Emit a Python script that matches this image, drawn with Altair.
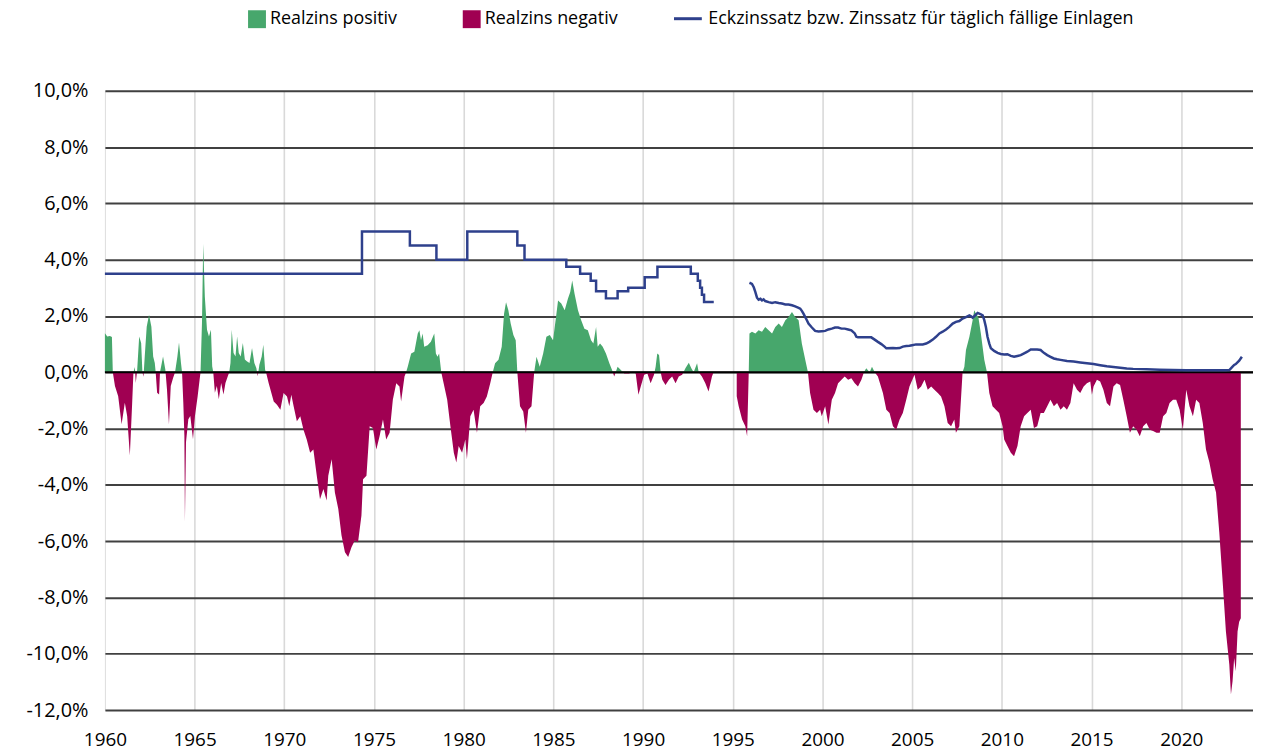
import altair as alt
import pandas as pd

real_t = [1960.00, 1960.13, 1960.28, 1960.39, 1960.44, 1960.56, 1960.74, 1960.93, 1961.11, 1961.24,
          1961.39, 1961.52, 1961.59, 1961.67, 1961.72, 1961.80, 1961.91, 1962.02, 1962.09, 1962.15,
          1962.22, 1962.33, 1962.46, 1962.59, 1962.69, 1962.78, 1962.83, 1962.91, 1963.02, 1963.07,
          1963.24, 1963.37, 1963.46, 1963.57, 1963.67, 1963.80, 1963.91, 1964.04, 1964.13, 1964.24,
          1964.30, 1964.37, 1964.43, 1964.46, 1964.52, 1964.65, 1964.76, 1964.91, 1965.02, 1965.17,
          1965.28, 1965.33, 1965.41, 1965.48, 1965.57, 1965.69, 1965.80, 1965.91, 1965.98, 1966.04,
          1966.13, 1966.24, 1966.35, 1966.48, 1966.61, 1966.72, 1966.85, 1966.93, 1967.00, 1967.07,
          1967.17, 1967.28, 1967.37, 1967.46, 1967.57, 1967.69, 1967.80, 1967.91, 1968.06, 1968.20,
          1968.33, 1968.44, 1968.52, 1968.61, 1968.74, 1968.83, 1968.93, 1968.98, 1969.13, 1969.41,
          1969.59, 1969.78, 1969.96, 1970.15, 1970.28, 1970.39, 1970.52, 1970.70, 1970.89, 1971.07,
          1971.25, 1971.44, 1971.62, 1971.81, 1971.99, 1972.18, 1972.36, 1972.45, 1972.64, 1972.82,
          1973.01, 1973.19, 1973.38, 1973.56, 1973.75, 1973.93, 1974.11, 1974.30, 1974.39, 1974.58,
          1974.76, 1974.94, 1975.13, 1975.31, 1975.50, 1975.68, 1975.87, 1976.05, 1976.24, 1976.42,
          1976.51, 1976.70, 1976.79, 1976.88, 1977.07, 1977.25, 1977.44, 1977.53, 1977.62, 1977.71,
          1977.80, 1977.99, 1978.17, 1978.36, 1978.45, 1978.54, 1978.63, 1978.75, 1979.08, 1979.26,
          1979.45, 1979.59, 1979.72, 1979.91, 1980.09, 1980.18, 1980.37, 1980.55, 1980.74, 1980.92,
          1981.11, 1981.29, 1981.48, 1981.62, 1981.75, 1981.94, 1982.12, 1982.25, 1982.36, 1982.49,
          1982.62, 1982.77, 1982.90, 1982.99, 1983.14, 1983.32, 1983.47, 1983.60, 1983.78, 1983.93,
          1984.06, 1984.24, 1984.43, 1984.61, 1984.80, 1984.98, 1985.17, 1985.26, 1985.44, 1985.63,
          1985.81, 1985.94, 1986.05, 1986.18, 1986.37, 1986.55, 1986.73, 1986.92, 1987.10, 1987.23,
          1987.38, 1987.47, 1987.60, 1987.75, 1987.93, 1988.12, 1988.27, 1988.39, 1988.58, 1988.76,
          1988.95, 1989.22, 1989.41, 1989.59, 1989.74, 1989.87, 1990.06, 1990.24, 1990.42, 1990.61,
          1990.70, 1990.79, 1990.89, 1990.98, 1991.07, 1991.25, 1991.44, 1991.62, 1991.81, 1991.99,
          1992.18, 1992.36, 1992.55, 1992.69, 1992.82, 1993.01, 1993.10, 1993.28, 1993.47, 1993.65,
          1993.84, 1993.93,
          1995.22, 1995.33, 1995.52, 1995.70, 1995.80, 1995.89, 1995.93, 1996.07, 1996.26, 1996.44,
          1996.63, 1996.81, 1997.00, 1997.19, 1997.37, 1997.56, 1997.74, 1997.93, 1998.11, 1998.30,
          1998.48, 1998.67, 1998.85, 1999.04, 1999.19, 1999.31, 1999.50, 1999.69, 1999.87, 1999.96,
          2000.15, 2000.33, 2000.52, 2000.70, 2000.87, 2001.06, 2001.24, 2001.43, 2001.61, 2001.80,
          2001.98, 2002.17, 2002.31, 2002.44, 2002.63, 2002.76, 2002.91, 2003.09, 2003.37, 2003.56,
          2003.74, 2003.93, 2004.11, 2004.30, 2004.48, 2004.67, 2004.85, 2005.13, 2005.31, 2005.50,
          2005.69, 2005.87, 2006.06, 2006.24, 2006.43, 2006.61, 2006.80, 2006.98, 2007.17, 2007.35,
          2007.44, 2007.63, 2007.81, 2007.91, 2008.00, 2008.19, 2008.37, 2008.46, 2008.56, 2008.69,
          2008.83, 2009.02, 2009.17, 2009.30, 2009.48, 2009.67, 2009.85, 2010.04, 2010.13, 2010.31,
          2010.50, 2010.68, 2010.87, 2011.05, 2011.24, 2011.42, 2011.61, 2011.79, 2011.97, 2012.16,
          2012.34, 2012.53, 2012.71, 2012.90, 2013.08, 2013.27, 2013.45, 2013.63, 2013.82, 2014.00,
          2014.19, 2014.37, 2014.56, 2014.74, 2014.93, 2015.02, 2015.11, 2015.30, 2015.48, 2015.66,
          2015.85, 2016.03, 2016.22, 2016.40, 2016.59, 2016.77, 2016.96, 2017.14, 2017.32, 2017.51,
          2017.69, 2017.88, 2018.06, 2018.25, 2018.43, 2018.62, 2018.80, 2018.99, 2019.17, 2019.35,
          2019.54, 2019.72, 2019.91, 2020.09, 2020.28, 2020.46, 2020.65, 2020.83, 2021.01, 2021.20,
          2021.38, 2021.57, 2021.75, 2021.94, 2022.12, 2022.31, 2022.49, 2022.68, 2022.77, 2022.86,
          2022.95, 2023.04, 2023.14, 2023.23, 2023.32]
real_v = [1.39, 1.27, 1.29, 1.25, 0.0, -0.49, -0.85, -1.85, -1.08, -1.55,
          -2.96, -1.08, 0.0, 0.19, -0.38, 0.09, 1.27, 1.04, 0.0, -0.16,
          0.56, 1.62, 2.04, 1.62, 0.56, 0.33, 0.0, -0.73, -0.79, 0.0,
          0.56, 0.09, -0.61, -1.85, -0.49, -0.20, 0.0, 0.56, 1.06, 0.33,
          0.0, -1.08, -2.26, -5.30, -2.49, -1.67, -1.55, -2.38, -1.55, -0.85,
          -0.26, 0.0, 1.74, 4.56, 2.68, 1.51, 1.27, 1.51, 0.21, 0.0,
          -0.73, -0.49, -0.96, -0.38, -0.79, -0.38, -0.14, 0.0, 0.33, 1.51,
          0.68, 0.56, 1.27, 0.68, 0.56, 1.04, 0.45, 0.39, 0.33, 0.86,
          0.33, 0.15, -0.14, 0.27, 0.56, 0.98, 0.09, 0.0, -0.39, -1.04,
          -1.15, -1.33, -0.74, -0.86, -1.21, -0.80, -1.21, -1.74, -1.56, -2.04,
          -2.39, -2.86, -2.74, -3.68, -4.51, -4.15, -4.56, -3.68, -3.09, -4.27,
          -4.86, -5.80, -6.39, -6.56, -6.21, -5.98, -6.04, -5.09, -3.80, -3.68,
          -1.92, -1.98, -2.74, -2.27, -1.68, -2.39, -2.15, -0.98, -0.39, -0.51,
          -1.04, -0.15, 0.0, 0.20, 0.67, 0.73, 1.38, 1.49, 1.14, 1.38,
          0.91, 0.96, 1.08, 1.38, 0.67, 0.55, 0.67, 0.0, -0.98, -1.92,
          -2.86, -3.21, -2.62, -2.86, -2.39, -3.09, -1.56, -1.33, -2.15, -1.21,
          -1.09, -0.86, -0.39, 0.0, 0.32, 0.44, 0.91, 2.08, 2.49, 2.20,
          1.73, 1.32, 1.14, 0.0, -1.21, -1.39, -2.15, -1.33, -1.21, 0.0,
          0.55, 0.20, 0.67, 1.26, 1.32, 1.14, 2.08, 2.55, 2.44, 2.20,
          2.61, 2.85, 3.26, 2.79, 2.20, 1.85, 1.55, 1.49, 1.14, 1.02,
          1.61, 0.91, 1.02, 0.91, 0.67, 0.32, 0.08, -0.15, 0.20, 0.08,
          -0.04, -0.04, 0.02, -0.04, -0.80, -0.51, -0.09, -0.04, -0.39, -0.09,
          0.20, 0.67, 0.61, 0.0, -0.27, -0.45, -0.27, -0.15, -0.39, -0.15,
          -0.09, 0.14, 0.34, 0.14, 0.0, 0.32, 0.0, -0.15, -0.39, -0.68,
          -0.15, 0.0,
          -0.85, -1.21, -1.68, -1.92, -2.27, 0.0, 1.38, 1.44, 1.38, 1.49,
          1.44, 1.61, 1.49, 1.38, 1.61, 1.73, 1.61, 1.85, 1.96, 2.14,
          1.96, 1.85, 1.02, 0.44, 0.0, -0.74, -1.33, -1.45, -1.33, -1.56,
          -1.21, -1.86, -0.98, -0.74, -0.39, -0.27, -0.15, -0.27, -0.21, -0.39,
          -0.51, -0.27, 0.0, 0.14, 0.0, 0.20, 0.0, -0.15, -0.74, -1.33,
          -1.45, -1.92, -2.04, -1.68, -1.45, -0.98, -0.51, -0.09, -0.62, -0.51,
          -0.27, -0.62, -0.51, -0.62, -0.74, -0.86, -1.21, -1.80, -1.92, -1.68,
          -2.15, -1.92, 0.0, 0.20, 0.79, 1.26, 1.85, 2.20, 2.08, 1.96,
          1.38, 0.44, 0.0, -0.74, -1.21, -1.33, -1.45, -1.92, -2.39, -2.62,
          -2.86, -2.98, -2.62, -1.92, -1.56, -1.45, -1.33, -1.98, -1.92, -1.45,
          -1.45, -1.21, -0.98, -1.21, -1.09, -1.33, -1.21, -1.33, -1.09, -0.39,
          -0.62, -0.74, -0.51, -0.39, -0.33, -0.80, -0.51, -0.27, -0.33, -0.62,
          -1.09, -1.21, -0.51, -0.39, -0.45, -0.98, -1.56, -2.15, -1.92, -2.04,
          -2.27, -1.92, -1.80, -2.04, -2.09, -2.15, -2.15, -1.56, -1.45, -1.09,
          -0.98, -0.98, -1.33, -2.04, -0.62, -1.21, -1.56, -0.98, -1.09, -1.80,
          -2.74, -3.21, -3.80, -4.27, -5.68, -7.45, -9.21, -10.39, -11.45, -10.98,
          -10.15, -10.62, -9.21, -8.86, -8.74]

# Eckzinssatz (step series, 1960-1993)
step_t = [1960.0, 1974.33, 1977.0, 1978.48, 1980.2, 1982.99, 1983.39, 1985.72, 1986.49, 1987.08,
          1987.38, 1987.93, 1988.58, 1989.17, 1990.09, 1990.8, 1992.66, 1993.05, 1993.18, 1993.28,
          1993.4, 1993.94]
step_v = [3.5, 5.0, 4.5, 4.0, 5.0, 4.5, 4.0, 3.75, 3.5, 3.25,
          2.875, 2.625, 2.875, 3.0, 3.375, 3.75, 3.5, 3.25, 3.0, 2.75,
          2.5, 2.5]

# Zinssatz für täglich fällige Einlagen (1996-2023)
rate_t = [1995.93, 1996.07, 1996.17, 1996.26, 1996.35, 1996.44, 1996.54, 1996.63, 1996.72, 1996.81,
          1997.00, 1997.19, 1997.37, 1997.56, 1997.74, 1997.93, 1998.11, 1998.30, 1998.48, 1998.67,
          1998.76, 1998.85, 1998.94, 1999.04, 1999.13, 1999.22, 1999.41, 1999.59, 1999.78, 1999.96,
          2000.15, 2000.33, 2000.52, 2000.70, 2000.87, 2001.06, 2001.24, 2001.43, 2001.61, 2001.80,
          2001.89, 2001.98, 2002.72, 2002.91, 2003.09, 2003.28, 2003.46, 2003.56, 2003.93, 2004.11,
          2004.30, 2004.48, 2004.67, 2004.85, 2005.00, 2005.22, 2005.59, 2005.78, 2005.96, 2006.15,
          2006.33, 2006.52, 2006.70, 2006.89, 2007.07, 2007.26, 2007.44, 2007.63, 2007.81, 2008.00,
          2008.19, 2008.28, 2008.37, 2008.46, 2008.65, 2008.83, 2008.93, 2009.02, 2009.11, 2009.20,
          2009.30, 2009.39, 2009.57, 2009.76, 2009.94, 2010.13, 2010.31, 2010.50, 2010.68, 2010.87,
          2011.05, 2011.24, 2011.42, 2011.61, 2011.97, 2012.16, 2012.34, 2012.53, 2012.71, 2012.90,
          2013.08, 2013.27, 2013.63, 2014.00, 2014.37, 2014.74, 2015.11, 2015.48, 2015.85, 2016.22,
          2016.59, 2016.96, 2017.32, 2018.06, 2018.80, 2019.54, 2020.28, 2021.57, 2022.49, 2022.68,
          2022.77, 2022.86, 2022.95, 2023.04, 2023.23, 2023.38]
rate_v = [3.18, 3.14, 3.02, 2.85, 2.65, 2.58, 2.61, 2.55, 2.59, 2.53,
          2.49, 2.46, 2.49, 2.46, 2.44, 2.41, 2.41, 2.38, 2.34, 2.29,
          2.26, 2.18, 2.08, 1.96, 1.85, 1.73, 1.59, 1.47, 1.45, 1.46,
          1.47, 1.52, 1.55, 1.59, 1.59, 1.55, 1.55, 1.52, 1.49, 1.38,
          1.26, 1.24, 1.24, 1.16, 1.08, 1.00, 0.91, 0.85, 0.86, 0.85,
          0.86, 0.91, 0.93, 0.94, 0.96, 0.99, 0.99, 1.02, 1.08, 1.16,
          1.26, 1.38, 1.44, 1.52, 1.61, 1.73, 1.79, 1.82, 1.91, 1.96,
          2.02, 1.99, 1.94, 1.99, 2.11, 2.06, 2.02, 1.85, 1.61, 1.26,
          1.02, 0.85, 0.76, 0.69, 0.65, 0.63, 0.64, 0.58, 0.55, 0.58,
          0.61, 0.67, 0.73, 0.81, 0.81, 0.79, 0.69, 0.61, 0.55, 0.49,
          0.46, 0.44, 0.40, 0.38, 0.35, 0.32, 0.29, 0.25, 0.21, 0.19,
          0.16, 0.13, 0.12, 0.11, 0.09, 0.08, 0.07, 0.07, 0.07, 0.08,
          0.14, 0.20, 0.26, 0.29, 0.41, 0.55]

POS = "Realzins positiv"
NEG = "Realzins negativ"
LINE = "Eckzinssatz bzw. Zinssatz für täglich fällige Einlagen"

# split into positive / negative parts, adding sign-change points for clean fills
pts = list(zip(real_t, real_v))
rows = []
for i, (t, v) in enumerate(pts):
    seg = 1 if t < 1994.5 else 2
    if i > 0:
        t0, v0 = pts[i - 1]
        if v0 * v < 0 and (t0 < 1994.5) == (t < 1994.5):
            tc = t0 + (t - t0) * v0 / (v0 - v)
            rows.append({"t": tc, "v": 0.0, "s": POS, "seg": seg})
            rows.append({"t": tc, "v": 0.0, "s": NEG, "seg": seg})
    rows.append({"t": t, "v": max(v, 0.0), "s": POS, "seg": seg})
    rows.append({"t": t, "v": min(v, 0.0), "s": NEG, "seg": seg})
df_area = pd.DataFrame(rows)
df_step = pd.DataFrame({"t": step_t, "v": step_v, "name": LINE})
df_rate = pd.DataFrame({"t": rate_t, "v": rate_v, "name": LINE})
df_zero = pd.DataFrame({"v": [0.0]})

FONT = "Open Sans"

x = alt.X("t:Q", title=None,
          scale=alt.Scale(domain=[1960, 2024], nice=False, zero=False),
          axis=alt.Axis(values=list(range(1960, 2021, 5)), format="d", domain=False, ticks=False,
                        labelFlush=False, labelPadding=21, labelFontSize=19, labelFont=FONT,
                        labelColor="#000000", gridColor="#D9D9D9", gridWidth=1.6,
                        gridOpacity={"condition": {"test": "datum.value === 1960", "value": 0}, "value": 1}))
y = alt.Y("v:Q", title=None, stack=None,
          scale=alt.Scale(domain=[-12, 10], nice=False),
          axis=alt.Axis(values=list(range(-12, 11, 2)),
                        labelExpr="replace(replace(format(datum.value, '.1f'), '.', ','), '\u2212', '-') + '%'",
                        domain=False, ticks=False, labelFlush=False, labelPadding=17, labelFontSize=20,
                        labelFont=FONT, labelColor="#000000", gridColor="#404040", gridWidth=2))

area = alt.Chart(df_area).mark_area(interpolate="linear", opacity=1).encode(
    x=x, y=y,
    fill=alt.Fill("s:N", scale=alt.Scale(domain=[POS, NEG], range=["#47A76C", "#A00052"]),
                  legend=alt.Legend(title=None, orient="none", legendX=144, legendY=-81,
                                    direction="horizontal", symbolType="square", symbolSize=324,
                                    symbolStrokeWidth=0, labelFontSize=18, labelFont=FONT,
                                    labelColor="#000000", labelOffset=4, labelLimit=0,
                                    columnPadding=66, padding=0)),
    detail="seg:N",
)

stroke = alt.Stroke("name:N", scale=alt.Scale(domain=[LINE], range=["#2E408C"]),
                    legend=alt.Legend(title=None, orient="none", legendX=571, legendY=-88,
                                      symbolType="stroke", symbolSize=784, symbolStrokeWidth=3,
                                      labelFontSize=18, labelFont=FONT, labelColor="#000000",
                                      labelOffset=5, labelLimit=0, padding=0))

line_step = alt.Chart(df_step).mark_line(interpolate="step-after", strokeWidth=2.5).encode(
    x=x, y=y, stroke=stroke)
line_rate = alt.Chart(df_rate).mark_line(interpolate="linear", strokeWidth=2.5).encode(
    x=x, y=y, stroke=stroke)

zero = alt.Chart(df_zero).mark_rule(color="#000000", strokeWidth=2).encode(y=y)

chart = alt.layer(area, zero, line_step, line_rate).properties(
    width=1155, height=623,
    autosize=alt.AutoSizeParams(type="none"),
    padding={"left": 97.5, "top": 81, "right": 0, "bottom": 50},
).configure_view(stroke=None).configure(background="white")

chart.save("out.html", embed_options={"renderer": "svg", "actions": False})
